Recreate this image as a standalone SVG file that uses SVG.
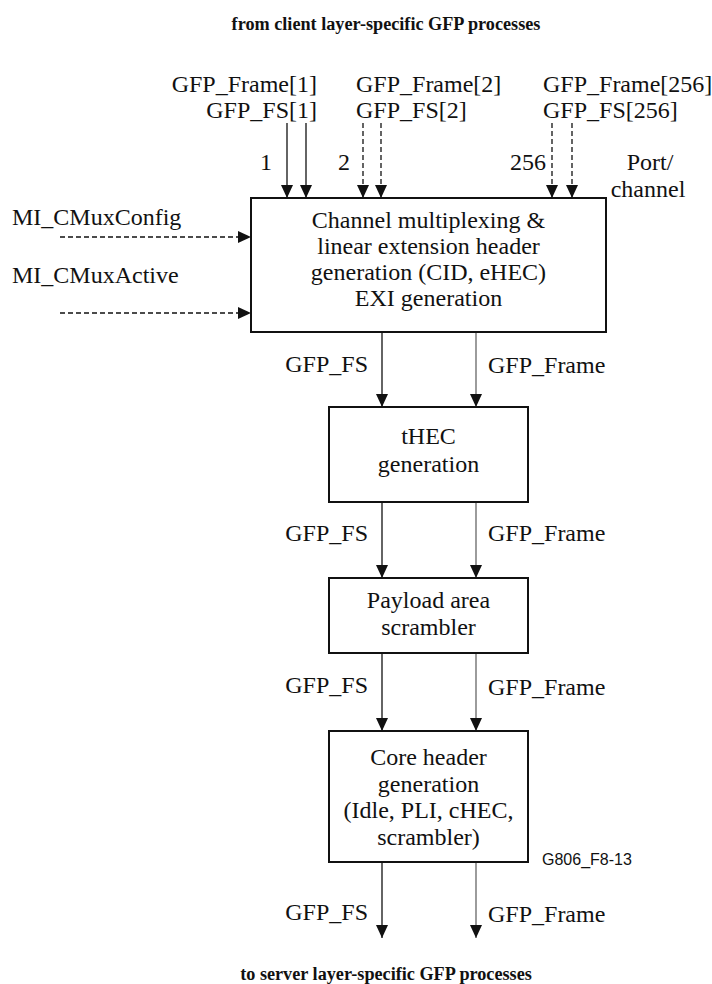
<svg xmlns="http://www.w3.org/2000/svg" width="712" height="984" viewBox="0 0 712 984">
<style>
text{font-family:"Liberation Serif","Times New Roman",serif;font-size:24px;fill:#111}
.title{font-weight:bold;font-size:18.2px;text-anchor:middle}
.c{text-anchor:middle}
.r{text-anchor:end}
.box{fill:#fff;stroke:#111;stroke-width:2}
.ln{fill:none;stroke:#111;stroke-width:1.3}
.gr{fill:none;stroke:#666;stroke-width:1.3}
.dash{stroke-dasharray:5 3}
.code{font-family:"Liberation Sans",Arial,sans-serif;font-size:16px}
</style>
<defs>
<marker id="ah" markerUnits="userSpaceOnUse" markerWidth="14" markerHeight="14" refX="13" refY="6.5" orient="auto">
<path d="M0,0.5 L13,6.5 L0,12.5 z" fill="#111"/>
</marker>
</defs>
<text class="title" x="386" y="30">from client layer-specific GFP processes</text>
<text class="title" x="386" y="980">to server layer-specific GFP processes</text>
<g id="inputs-labels">
<text class="r" x="317" y="92">GFP_Frame[1]</text>
<text class="r" x="317" y="118">GFP_FS[1]</text>
<text x="356" y="92">GFP_Frame[2]</text>
<text x="356" y="118">GFP_FS[2]</text>
<text x="543" y="92">GFP_Frame[256]</text>
<text x="543" y="118">GFP_FS[256]</text>
<text class="c" x="266" y="170">1</text>
<text class="c" x="344" y="170">2</text>
<text class="r" x="546" y="170">256</text>
<text class="c" x="650" y="170">Port/</text>
<text class="c" x="648" y="197">channel</text>
<text x="12" y="225">MI_CMuxConfig</text>
<text x="12" y="283">MI_CMuxActive</text>
</g>
<g id="connectors">
<line class="ln" x1="287" y1="123" x2="287" y2="198" marker-end="url(#ah)"/>
<line class="ln" x1="306" y1="123" x2="306" y2="198" marker-end="url(#ah)"/>
<line class="ln dash" x1="363" y1="123" x2="363" y2="198" marker-end="url(#ah)"/>
<line class="ln dash" x1="381" y1="123" x2="381" y2="198" marker-end="url(#ah)"/>
<line class="ln dash" x1="552" y1="123" x2="552" y2="198" marker-end="url(#ah)"/>
<line class="ln dash" x1="572" y1="123" x2="572" y2="198" marker-end="url(#ah)"/>
<line class="ln dash" x1="60" y1="237" x2="251" y2="237" marker-end="url(#ah)"/>
<line class="ln dash" x1="60" y1="313" x2="251" y2="313" marker-end="url(#ah)"/>
<line class="ln" x1="382" y1="332" x2="382" y2="407" marker-end="url(#ah)"/>
<line class="gr" x1="476" y1="332" x2="476" y2="407" marker-end="url(#ah)"/>
<line class="ln" x1="382" y1="502" x2="382" y2="578" marker-end="url(#ah)"/>
<line class="gr" x1="476" y1="502" x2="476" y2="578" marker-end="url(#ah)"/>
<line class="ln" x1="382" y1="653" x2="382" y2="731" marker-end="url(#ah)"/>
<line class="gr" x1="476" y1="653" x2="476" y2="731" marker-end="url(#ah)"/>
<line class="ln" x1="382" y1="862" x2="382" y2="938" marker-end="url(#ah)"/>
<line class="gr" x1="476" y1="862" x2="476" y2="938" marker-end="url(#ah)"/>
<text class="r" x="368" y="372">GFP_FS</text>
<text x="488" y="373">GFP_Frame</text>
<text class="r" x="368" y="541">GFP_FS</text>
<text x="488" y="541">GFP_Frame</text>
<text class="r" x="368" y="693">GFP_FS</text>
<text x="488" y="695">GFP_Frame</text>
<text class="r" x="368" y="920">GFP_FS</text>
<text x="488" y="922">GFP_Frame</text>
</g>
<g id="mux">
<rect class="box" x="251" y="198" width="355" height="134"/>
<text class="c" x="428.5" y="228">Channel multiplexing &amp;</text>
<text class="c" x="428.5" y="254">linear extension header</text>
<text class="c" x="428.5" y="280">generation (CID, eHEC)</text>
<text class="c" x="428.5" y="306">EXI generation</text>
</g>
<g id="thec">
<rect class="box" x="329" y="407" width="199" height="95"/>
<text class="c" x="428.5" y="444">tHEC</text>
<text class="c" x="428.5" y="472">generation</text>
</g>
<g id="scrambler">
<rect class="box" x="329" y="578" width="199" height="75"/>
<text class="c" x="428.5" y="608">Payload area</text>
<text class="c" x="428.5" y="635">scrambler</text>
</g>
<g id="core">
<rect class="box" x="329" y="731" width="199" height="131"/>
<text class="c" x="428.5" y="765">Core header</text>
<text class="c" x="428.5" y="792">generation</text>
<text class="c" x="428.5" y="818">(Idle, PLI, cHEC,</text>
<text class="c" x="428.5" y="845">scrambler)</text>
</g>
<text class="code" x="542" y="865">G806_F8-13</text>
</svg>
